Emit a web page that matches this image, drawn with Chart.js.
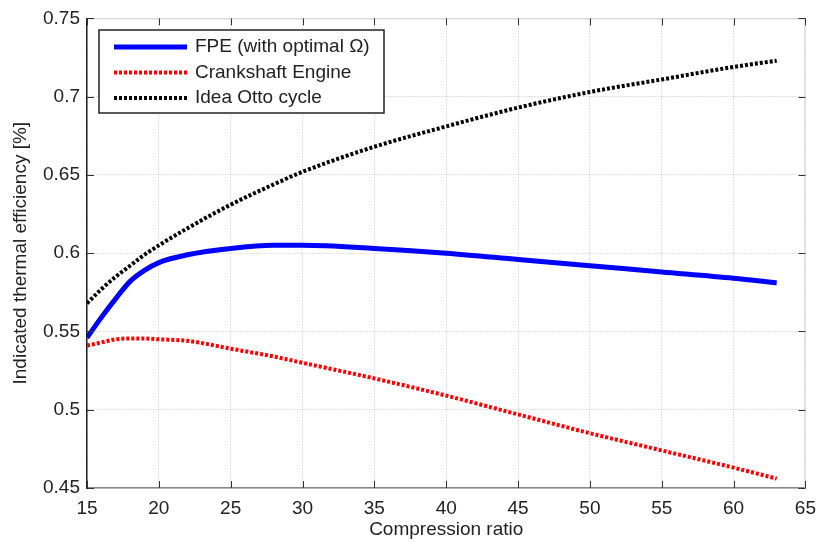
<!DOCTYPE html>
<html>
<head>
<meta charset="utf-8">
<script src="https://cdn.jsdelivr.net/npm/chart.js@4"></script>
<style>
  html, body { margin: 0; padding: 0; background: #fff; }
  #wrap { width: 825px; height: 542px; }
</style>
</head>
<body>
<div id="wrap"><canvas id="chart-eff" width="825" height="542"></canvas></div>
<script>
// values
const ratio = [15, 16, 17, 18, 19, 20, 22, 25, 28, 30, 35, 40, 45, 50, 55, 60, 63];
const fpe   = [0.546, 0.559, 0.571, 0.582, 0.589, 0.594, 0.599, 0.603, 0.605, 0.605, 0.603, 0.600, 0.596, 0.592, 0.588, 0.584, 0.581];
const crank = [0.541, 0.543, 0.545, 0.5455, 0.5455, 0.545, 0.544, 0.539, 0.534, 0.530, 0.520, 0.509, 0.497, 0.485, 0.474, 0.463, 0.456];
const otto  = [0.568, 0.577, 0.585, 0.592, 0.599, 0.605, 0.616, 0.631, 0.644, 0.652, 0.668, 0.681, 0.693, 0.703, 0.711, 0.719, 0.723];
const labels = ['FPE (with optimal \u03A9)', 'Crankshaft Engine', 'Idea Otto cycle'];

const FONT = '"Liberation Sans", Arial, sans-serif';
const pts = (ys) => ratio.map((x, i) => ({x: x, y: ys[i]}));

// matlab style inward ticks + thin top/right frame
const frame = {
    id: 'frame',
    afterDatasetsDraw(chart) {
        const {ctx, chartArea: a, scales} = chart;
        ctx.save();
        ctx.strokeStyle = '#d0d0d0';
        ctx.lineWidth = 1;
        ctx.beginPath();
        ctx.moveTo(a.left, a.top + 0.5); ctx.lineTo(a.right, a.top + 0.5);
        ctx.moveTo(a.right - 0.5, a.top); ctx.lineTo(a.right - 0.5, a.bottom);
        ctx.stroke();
        ctx.strokeStyle = '#333';
        ctx.beginPath();
        scales.x.ticks.forEach(t => {
            const px = Math.round(scales.x.getPixelForValue(t.value)) + 0.5;
            ctx.moveTo(px, a.bottom); ctx.lineTo(px, a.bottom - 7);
            ctx.moveTo(px, a.top); ctx.lineTo(px, a.top + 7);
        });
        scales.y.ticks.forEach(t => {
            const py = Math.round(scales.y.getPixelForValue(t.value)) + 0.5;
            ctx.moveTo(a.left, py); ctx.lineTo(a.left + 7, py);
            ctx.moveTo(a.right, py); ctx.lineTo(a.right - 7, py);
        });
        ctx.stroke();

        // legend box, top left inside the axes
        const bx = 99, by = 30, bw = 285, bh = 83;
        ctx.fillStyle = '#fff';
        ctx.fillRect(bx, by, bw, bh);
        ctx.strokeStyle = '#222';
        ctx.lineWidth = 1.5;
        ctx.strokeRect(bx, by, bw, bh);
        ctx.font = '19px ' + FONT;
        ctx.textBaseline = 'middle';
        chart.data.datasets.forEach((ds, i) => {
            const y = by + 17 + i * 25.5;
            ctx.strokeStyle = ds.borderColor;
            ctx.lineWidth = ds.borderWidth;
            ctx.setLineDash(ds.borderDash || []);
            ctx.beginPath();
            ctx.moveTo(114, y); ctx.lineTo(187, y);
            ctx.stroke();
            ctx.setLineDash([]);
            ctx.fillStyle = '#222';
            ctx.fillText(ds.label, 195, y);
        });
        ctx.restore();
    }
};

window.onload = function(){

    let myChart = new Chart(
        document.getElementById("chart-eff"),
        {
            type: 'line',
            data: {
                datasets: [{
                    label: labels[0],
                    data: pts(fpe),
                    borderColor: '#0000ff',
                    borderWidth: 5,
                },{
                    label: labels[1],
                    data: pts(crank),
                    borderColor: '#ff0000',
                    borderWidth: 4,
                    borderDash: [3, 2],
                },{
                    label: labels[2],
                    data: pts(otto),
                    borderColor: '#000000',
                    borderWidth: 4,
                    borderDash: [3, 2],
                }]
            },
            options: {
                responsive: false,
                animation: false,
                elements: { point: { radius: 0 }, line: { cubicInterpolationMode: 'monotone', fill: false } },
                layout: { padding: { left: 0, right: 15, top: 18, bottom: 0 } },
                plugins: { legend: { display: false }, tooltip: { enabled: false } },
                scales: {
                    x: {
                        type: 'linear',
                        min: 15, max: 65,
                        ticks: { stepSize: 5, padding: 9, color: '#222', font: { family: FONT, size: 19 } },
                        grid: { color: '#c4c4c4', drawTicks: false },
                        border: { color: '#888', width: 1.5, dash: [1, 2] },
                        title: { display: true, text: 'Compression ratio', color: '#222', font: { family: FONT, size: 19 }, padding: { top: 0, bottom: 1 } },
                        afterFit: function(s){ s.height = 54; }
                    },
                    y: {
                        min: 0.45, max: 0.75,
                        ticks: { stepSize: 0.05, padding: 7, color: '#222', font: { family: FONT, size: 19 },
                                 callback: v => String(Math.round(v * 100) / 100) },
                        grid: { color: '#c4c4c4', drawTicks: false },
                        border: { color: '#222', width: 1.5, dash: [1, 2] },
                        title: { display: true, text: 'Indicated thermal efficiency [%]', color: '#222', font: { family: FONT, size: 19 }, padding: { top: 9, bottom: 0 } },
                        afterFit: function(s){ s.width = 87; }
                    }
                }
            },
            plugins: [frame]
        }
    );
}
</script>
</body>
</html>
